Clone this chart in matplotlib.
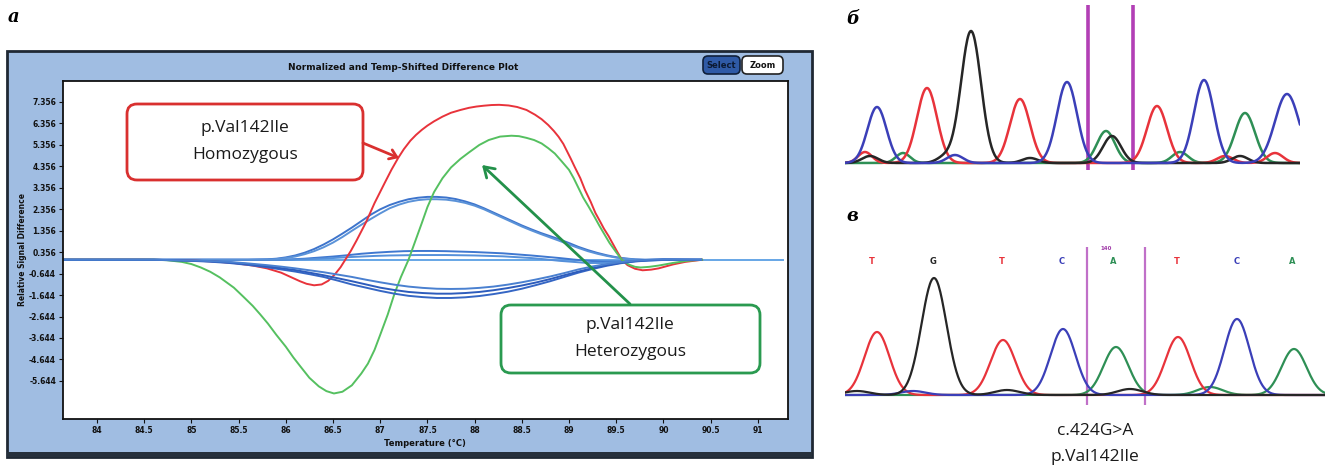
import numpy as np
import matplotlib
matplotlib.use("Agg")
import matplotlib.pyplot as plt
from matplotlib.transforms import Affine2D
from matplotlib.patches import FancyBboxPatch, Rectangle, FancyArrowPatch

# ---------------- data: panel a (HRM difference plot) ----------------
x_ticks = [84, 84.5, 85, 85.5, 86, 86.5, 87, 87.5, 88, 88.5, 89, 89.5, 90, 90.5, 91]
x_ticklabels = ["84", "84.5", "85", "85.5", "86", "86.5", "87", "87.5", "88", "88.5",
                "89", "89.5", "90", "90.5", "91"]
y_ticks = [7.356, 6.356, 5.356, 4.356, 3.356, 2.356, 1.356, 0.356,
           -0.644, -1.644, -2.644, -3.644, -4.644, -5.644]
y_ticklabels = ["7.356", "6.356", "5.356", "4.356", "3.356", "2.356", "1.356", "0.356",
                "-0.644", "-1.644", "-2.644", "-3.644", "-4.644", "-5.644"]

flat_t = [83.65, 91.27]
flat_y = [0.0, 0.0]

blue_up_t = [83.65, 85.6, 85.8, 85.9, 86.0, 86.1, 86.2, 86.3, 86.4, 86.5, 86.6, 86.7,
             86.8, 86.9, 87.0, 87.1, 87.2, 87.3, 87.4, 87.5, 87.6, 87.7, 87.8, 87.9,
             88.0, 88.1, 88.2, 88.3, 88.4, 88.5, 88.6, 88.7, 88.8, 88.9, 89.0, 89.1,
             89.2, 89.3, 89.4, 89.5, 89.6, 89.7, 89.8, 90.4]
blue_up_a = [0, 0, 0.02, 0.05, 0.11, 0.2, 0.33, 0.5, 0.71, 0.95, 1.22, 1.5,
             1.8, 2.1, 2.35, 2.55, 2.7, 2.82, 2.89, 2.93, 2.93, 2.9, 2.83, 2.72,
             2.58, 2.4, 2.2, 2.0, 1.8, 1.6, 1.42, 1.25, 1.1, 0.95, 0.78, 0.6,
             0.45, 0.32, 0.21, 0.12, 0.06, 0.02, 0.0, 0]
blue_up_b = [0, 0, 0.01, 0.03, 0.08, 0.15, 0.26, 0.4, 0.58, 0.8, 1.06, 1.35,
             1.63, 1.9, 2.16, 2.4, 2.57, 2.7, 2.78, 2.82, 2.82, 2.8, 2.74, 2.65,
             2.52, 2.35, 2.15, 1.95, 1.75, 1.55, 1.37, 1.2, 1.04, 0.88, 0.71, 0.55,
             0.4, 0.28, 0.18, 0.1, 0.05, 0.01, 0.0, 0]

blue_pos_t = [83.65, 85.9, 86.05, 86.2, 86.35, 86.5, 86.65, 86.8, 86.95, 87.1, 87.25,
              87.4, 87.55, 87.7, 87.85, 88.0, 88.15, 88.3, 88.45, 88.6, 88.75, 88.9,
              89.05, 89.2, 89.35, 89.5, 89.65, 89.8, 90.0, 90.4]
blue_pos_a = [0, 0, 0.02, 0.05, 0.1, 0.15, 0.21, 0.28, 0.33, 0.37, 0.4,
              0.41, 0.41, 0.4, 0.38, 0.36, 0.33, 0.3, 0.25, 0.2, 0.14, 0.08,
              0.01, -0.05, -0.08, -0.08, -0.06, -0.03, -0.01, 0]
blue_pos_b = [0, 0, 0.01, 0.02, 0.05, 0.08, 0.12, 0.15, 0.18, 0.2, 0.21,
              0.22, 0.22, 0.22, 0.21, 0.2, 0.18, 0.16, 0.12, 0.08, 0.02, -0.05,
              -0.1, -0.15, -0.15, -0.12, -0.08, -0.04, -0.01, 0]

blue_neg_t = [83.65, 84.6, 85.0, 85.2, 85.4, 85.6, 85.8, 85.95, 86.1, 86.25, 86.4, 86.55,
              86.7, 86.85, 87.0, 87.15, 87.3, 87.45, 87.6, 87.75, 87.9, 88.05, 88.2,
              88.35, 88.5, 88.65, 88.8, 88.95, 89.1, 89.25, 89.4, 89.55, 89.7, 89.85,
              90.0, 90.4]
blue_neg_a = [0, 0, -0.05, -0.09, -0.15, -0.24, -0.35, -0.45, -0.55, -0.67, -0.8, -0.97,
              -1.15, -1.3, -1.45, -1.58, -1.68, -1.74, -1.78, -1.78, -1.75, -1.69, -1.6,
              -1.49, -1.35, -1.18, -1.0, -0.8, -0.6, -0.43, -0.28, -0.16, -0.08, -0.03,
              0, 0]
blue_neg_b = [0, 0, -0.04, -0.07, -0.12, -0.2, -0.3, -0.39, -0.48, -0.6, -0.72, -0.86,
              -1.0, -1.15, -1.3, -1.41, -1.5, -1.55, -1.58, -1.58, -1.55, -1.5, -1.42,
              -1.32, -1.2, -1.06, -0.9, -0.72, -0.55, -0.39, -0.25, -0.14, -0.06, -0.01,
              0.02, 0]
blue_neg_c = [0, 0, -0.03, -0.06, -0.1, -0.17, -0.25, -0.32, -0.4, -0.49, -0.58, -0.69,
              -0.8, -0.93, -1.05, -1.16, -1.25, -1.31, -1.35, -1.36, -1.35, -1.31, -1.25,
              -1.16, -1.05, -0.92, -0.78, -0.62, -0.45, -0.31, -0.2, -0.11, -0.04, 0.0,
              0.02, 0]

homo_t = [83.65, 84.5, 84.9, 85.2, 85.45, 85.65, 85.8, 85.95, 86.05, 86.15, 86.22, 86.3,
          86.38, 86.45, 86.52, 86.58, 86.63, 86.69, 86.75, 86.85, 86.94, 87.05, 87.12,
          87.19, 87.25, 87.32, 87.38, 87.44, 87.5, 87.57, 87.66, 87.75, 87.85, 87.94,
          88.02, 88.1, 88.18, 88.26, 88.36, 88.45, 88.55, 88.64, 88.71, 88.78, 88.84,
          88.89, 88.94, 88.98, 89.02, 89.06, 89.12, 89.17, 89.23, 89.28, 89.33, 89.37,
          89.42, 89.46, 89.51, 89.56, 89.62, 89.7, 89.78, 89.87, 89.95, 90.1, 90.23,
          90.41]
homo_y = [0, 0, -0.02, -0.07, -0.15, -0.27, -0.4, -0.6, -0.8, -1.0, -1.12, -1.19,
          -1.15, -0.98, -0.68, -0.35, 0.0, 0.42, 0.9, 1.75, 2.64, 3.6, 4.2,
          4.74, 5.15, 5.55, 5.82, 6.05, 6.25, 6.45, 6.67, 6.85, 6.98, 7.08,
          7.14, 7.18, 7.21, 7.22, 7.19, 7.12, 6.98, 6.76, 6.55, 6.28, 6.0,
          5.73, 5.4, 5.05, 4.7, 4.33, 3.8, 3.25, 2.7, 2.18, 1.78, 1.45,
          1.1, 0.78, 0.38, 0.0, -0.25, -0.42, -0.49, -0.46, -0.4, -0.22, -0.1,
          0]

het_t = [83.65, 84.6, 84.74, 84.9, 85.0, 85.1, 85.2, 85.3, 85.45, 85.55, 85.65, 85.73,
         85.81, 85.9, 86.0, 86.08, 86.16, 86.25, 86.35, 86.43, 86.51, 86.6, 86.7, 86.8,
         86.87, 86.94, 87.0, 87.08, 87.15, 87.22, 87.3, 87.37, 87.44, 87.5, 87.57,
         87.66, 87.75, 87.85, 87.94, 88.05, 88.15, 88.27, 88.39, 88.47, 88.55, 88.63,
         88.71, 88.78, 88.85, 88.92, 89.0, 89.05, 89.1, 89.15, 89.21, 89.27, 89.32,
         89.38, 89.43, 89.5, 89.56, 89.63, 89.7, 89.76, 89.85, 89.95, 90.1, 90.25, 90.41]
het_y = [0, 0, -0.02, -0.1, -0.2, -0.36, -0.56, -0.82, -1.3, -1.72, -2.15, -2.55,
         -2.97, -3.5, -4.05, -4.55, -5.0, -5.5, -5.9, -6.12, -6.23, -6.15, -5.85, -5.3,
         -4.84, -4.2, -3.5, -2.55, -1.6, -0.8, 0.0, 0.85, 1.7, 2.45, 3.15,
         3.8, 4.3, 4.7, 5.0, 5.35, 5.58, 5.74, 5.78, 5.76, 5.68, 5.58,
         5.42, 5.2, 4.95, 4.6, 4.19, 3.8, 3.35, 2.9, 2.46, 2.0, 1.6,
         1.15, 0.78, 0.35, 0.0, -0.22, -0.33, -0.36, -0.33, -0.27, -0.15, -0.05, 0]

# ---------------- data: chromatograms (peak position, height, width) ----------------
# panel b
b_blue_pos = [32, 110, 222, 359, 442]
b_blue_h = [56, 8, 81, 83, 69]
b_blue_w = [9.5, 8, 10, 10, 12]
b_red_pos = [20, 82, 175, 312, 380, 430]
b_red_h = [11, 75, 64, 57, 7, 10]
b_red_w = [7, 10, 10, 10, 8, 8]
b_black_pos = [25, 100, 126, 185, 267, 395]
b_black_h = [7, 6, 132, 5, 27, 7]
b_black_w = [8, 8, 10, 8, 9, 8]
b_green_pos = [58, 261, 335, 400]
b_green_h = [10, 32, 11, 50]
b_green_w = [7, 9, 8, 10]
b_marks = [243, 288]

# panel v
v_bases = ["T", "G", "T", "C", "A", "T", "C", "A"]
v_base_pos = [27, 88, 157, 217, 268, 332, 392, 447]
v_red_pos = [32, 158, 333]
v_red_h = [63, 55, 58]
v_black_pos = [12, 89, 162, 285]
v_black_h = [4, 117, 5, 6]
v_blue_pos = [68, 218, 392]
v_blue_h = [4, 66, 76]
v_green_pos = [271, 365, 449]
v_green_h = [48, 8, 46]
v_marks = [242, 300]

# ---------------- figure ----------------
W, H = 1328, 468
fig = plt.figure(figsize=(W / 100, H / 100), dpi=100)
PX = Affine2D().scale(1 / 100, -1 / 100).translate(0, H / 100) + fig.dpi_scale_trans


def axrect(l, t, r, b):
    return [l / W, 1 - b / H, (r - l) / W, (b - t) / H]


# outer software frame
fig.add_artist(Rectangle((7, 51), 805, 406, transform=PX, facecolor="#a0bde2",
                         edgecolor="#1f2833", lw=2, zorder=-2))
fig.add_artist(Rectangle((7, 452), 805, 5, transform=PX, facecolor="#26303c",
                         edgecolor="none", zorder=-1))

fig.text(403, 67, "Normalized and Temp-Shifted Difference Plot", transform=PX,
         ha="center", va="center", fontsize=6.5, fontweight="bold", color="#111111")
fig.add_artist(FancyBboxPatch((703, 56), 37, 18, boxstyle="round,pad=0,rounding_size=5",
                              transform=PX, facecolor="#2f5aa6", edgecolor="#10203a", lw=1.2))
fig.text(721.5, 65, "Select", transform=PX, ha="center", va="center", fontsize=6,
         fontweight="bold", color="#0c1a33")
fig.add_artist(FancyBboxPatch((742, 56), 41, 18, boxstyle="round,pad=0,rounding_size=5",
                              transform=PX, facecolor="white", edgecolor="#222222", lw=1.2))
fig.text(762.5, 65, "Zoom", transform=PX, ha="center", va="center", fontsize=6,
         fontweight="bold", color="#111111")

# panel a axes
ax = fig.add_axes(axrect(63, 81, 788, 419))
ax.set_facecolor("white")
ax.set_xlim(83.64, 91.32)
ax.set_ylim(-7.42, 8.33)
lw = 1.4
ax.plot(flat_t, flat_y, color="#66a6e6", lw=lw)
ax.plot(blue_pos_t, blue_pos_a, color="#3f78d0", lw=lw)
ax.plot(blue_pos_t, blue_pos_b, color="#5590da", lw=lw)
ax.plot(blue_up_t, blue_up_a, color="#3d74cc", lw=lw)
ax.plot(blue_up_t, blue_up_b, color="#5a92d8", lw=lw)
ax.plot(homo_t, homo_y, color="#e8333b", lw=lw)
ax.plot(het_t, het_y, color="#55c060", lw=lw)
ax.plot(blue_neg_t, blue_neg_a, color="#3566c4", lw=lw)
ax.plot(blue_neg_t, blue_neg_b, color="#2d5cbc", lw=lw)
ax.plot(blue_neg_t, blue_neg_c, color="#4a80d0", lw=lw)

ax.set_xticks(x_ticks)
ax.set_xticklabels(x_ticklabels)
ax.set_yticks(y_ticks)
ax.set_yticklabels(y_ticklabels)
ax.tick_params(direction="out", length=3, width=0.8, labelsize=5.5, pad=2, colors="#111111")
for lab in ax.get_xticklabels() + ax.get_yticklabels():
    lab.set_fontweight("bold")
for s in ax.spines.values():
    s.set_linewidth(1.3)
    s.set_color("#111111")

fig.text(23, 250, "Relative Signal Difference", transform=PX, rotation=90,
         ha="center", va="center", fontsize=5.5, fontweight="bold", color="#111111")
fig.text(425, 443, "Temperature (\u00b0C)", transform=PX, ha="center", va="center",
         fontsize=6, fontweight="bold", color="#111111")

# annotation boxes
fig.add_artist(FancyBboxPatch((127, 104), 236, 76, boxstyle="round,pad=0,rounding_size=10",
                              transform=PX, facecolor="white", edgecolor="#d9302f", lw=2))
fig.text(245, 128, "p.Val142Ile", transform=PX, ha="center", va="center",
         fontsize=12.5, family="Open Sans", color="#1a1a1a")
fig.text(245, 155, "Homozygous", transform=PX, ha="center", va="center",
         fontsize=12.5, family="Open Sans", color="#1a1a1a")
fig.add_artist(FancyArrowPatch((363, 143), (399, 158), transform=PX,
                               arrowstyle="->,head_length=5,head_width=3.5",
                               color="#d9302f", lw=2, shrinkA=0, shrinkB=0))

fig.add_artist(FancyBboxPatch((501, 305), 259, 68, boxstyle="round,pad=0,rounding_size=10",
                              transform=PX, facecolor="white", edgecolor="#2a9a50", lw=2))
fig.text(630, 325, "p.Val142Ile", transform=PX, ha="center", va="center",
         fontsize=12.5, family="Open Sans", color="#1a1a1a")
fig.text(630, 352, "Heterozygous", transform=PX, ha="center", va="center",
         fontsize=12.5, family="Open Sans", color="#1a1a1a")
fig.add_artist(FancyArrowPatch((630, 304), (482, 165), transform=PX,
                               arrowstyle="->,head_length=7,head_width=4.5",
                               color="#23914a", lw=2, shrinkA=0, shrinkB=0))

# panel labels
for x, y, s in [(14, 17, "а"), (853, 19, "б"), (852, 216, "в")]:
    fig.text(x, y, s, transform=PX, ha="center", va="center", fontsize=13,
             fontweight="bold", fontstyle="italic", family="DejaVu Serif")


def trace(ax, xs, pos, hts, wid, color, lw=1.8):
    ys = np.zeros_like(xs)
    for p, h, w in zip(pos, hts, wid):
        ys = ys + h * np.exp(-0.5 * ((xs - p) / w) ** 2)
    ax.plot(xs, ys, color=color, lw=lw, solid_capstyle="round")


# panel b
axb = fig.add_axes(axrect(845, 5, 1300, 175))
axb.set_xlim(0, 455)
axb.set_ylim(-12, 158)
axb.axis("off")
xs_b = np.linspace(0, 455, 600)
axb.vlines(b_marks, -7, 158, color="#b23fb5", lw=2.6)
trace(axb, xs_b, b_green_pos, b_green_h, b_green_w, "#2e8f55")
trace(axb, xs_b, b_red_pos, b_red_h, b_red_w, "#e8333b")
trace(axb, xs_b, b_black_pos, b_black_h, b_black_w, "#262626")
trace(axb, xs_b, b_blue_pos, b_blue_h, b_blue_w, "#3b3fb8")

# panel v
axv = fig.add_axes(axrect(845, 240, 1325, 410))
axv.set_xlim(0, 480)
axv.set_ylim(-15, 155)
axv.axis("off")
xs_v = np.linspace(0, 480, 600)
axv.vlines(v_marks, -10, 148, color="#c070c8", lw=1.6)
sig = 12.5
trace(axv, xs_v, v_green_pos, v_green_h, [sig] * len(v_green_pos), "#2e8f55", lw=1.6)
trace(axv, xs_v, v_red_pos, v_red_h, [sig] * len(v_red_pos), "#e8333b", lw=1.6)
trace(axv, xs_v, v_blue_pos, v_blue_h, [sig] * len(v_blue_pos), "#3b3fb8", lw=1.6)
trace(axv, xs_v, v_black_pos, v_black_h, [sig] * len(v_black_pos), "#262626", lw=1.6)
base_colors = {"T": "#e8333b", "G": "#262626", "C": "#3b3fb8", "A": "#2e8f55"}
for b, p in zip(v_bases, v_base_pos):
    axv.text(p, 133, b, ha="center", va="center", fontsize=6, fontweight="bold",
             color=base_colors[b])
axv.text(261, 146, "140", ha="center", va="center", fontsize=4, fontweight="bold",
         color="#a03aa8")

fig.text(1095, 431, "c.424G>A", transform=PX, ha="center", va="center",
         fontsize=12.5, family="Open Sans", color="#1a1a1a")
fig.text(1095, 457, "p.Val142Ile", transform=PX, ha="center", va="center",
         fontsize=12.5, family="Open Sans", color="#1a1a1a")

fig.savefig("out.png", dpi=100)
